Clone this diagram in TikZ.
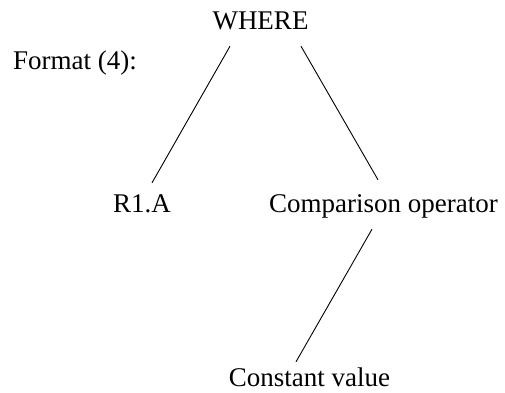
\documentclass[tikz,border=0pt]{standalone}
\usepackage{fontspec}
\setmainfont{Liberation Serif}
\usetikzlibrary{positioning}

\tikzset{
  lbl/.style={inner sep=0pt, anchor=base, text height=19pt, text depth=6pt,
    font=\fontsize{27}{32}\selectfont},
  edge/.style={line width=0.9pt}
}

\begin{document}
\begin{tikzpicture}[x=1pt,y=-1pt]

\useasboundingbox (0,0) rectangle (505,392);

\node[lbl] (where) at (260.5,29) {WHERE};
\node[lbl,anchor=base west] (fmt) at (13,69) {Format (4):};
\node[lbl] (r1a) at (142,212) {R1.A};
\node[lbl] (cmp) at (383.5,212) {Comparison operator};
\node[lbl] (const) at (309.5,386) {Constant value};

\draw[edge] ([xshift=-30.5pt,yshift=-11pt]where.south) -- ([xshift=10pt,yshift=10pt]r1a.north);
\draw[edge] ([xshift=40.5pt,yshift=-11pt]where.south) -- ([xshift=-5.5pt,yshift=13pt]cmp.north);
\draw[edge] ([xshift=-11.5pt,yshift=-11pt]cmp.south) -- ([xshift=-13.5pt,yshift=5pt]const.north);

\end{tikzpicture}
\end{document}
